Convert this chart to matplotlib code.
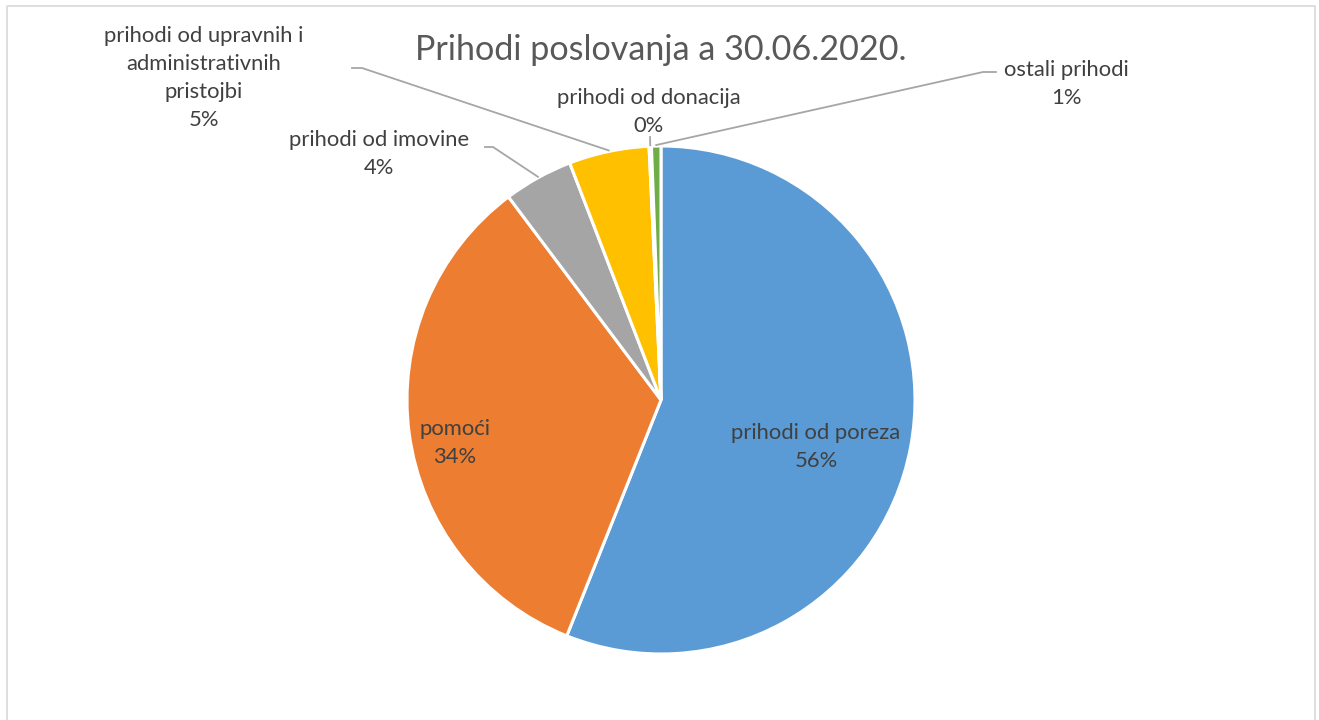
import numpy as np
import matplotlib.pyplot as plt

# udjeli prihoda (%)
categories = ["prihodi od poreza", "pomoći", "prihodi od imovine",
              "prihodi od upravnih i\nadministrativnih\npristojbi",
              "prihodi od donacija", "ostali prihodi"]
shares = [56.05, 33.7, 4.4, 5.1, 0.15, 0.6]
pct_labels = ["56%", "34%", "4%", "5%", "0%", "1%"]
colors = ["#5B9BD5", "#ED7D31", "#A5A5A5", "#FFC000", "#4472C4", "#70AD47"]

W, H = 1319, 720
fig = plt.figure(figsize=(W / 100, H / 100), dpi=100)
ax = fig.add_axes([0, 0, 1, 1])

plt.rcParams["font.family"] = ["Lato", "DejaVu Sans"]
txt_col = "#404040"

cx, cy, r = 661, H - 400, 254
wedges, _ = ax.pie(shares, colors=colors, startangle=90, counterclock=False,
                   center=(cx, cy), radius=r, frame=True,
                   wedgeprops=dict(edgecolor="white", linewidth=2.2))
ax.set_xlim(0, W)
ax.set_ylim(0, H)
ax.set_aspect("equal")
ax.axis("off")

# chart border
ax.plot([7, 7, 1315, 1315], [0, H - 6, H - 6, 0], color="#D9D9D9", lw=1.2)

ax.text(cx, H - 50, "Prihodi poslovanja a 30.06.2020.", ha="center", va="center",
        fontsize=24.6, color="#595959")


def edge_point(w):
    mid = np.deg2rad((w.theta1 + w.theta2) / 2)
    return cx + r * np.cos(mid), cy + r * np.sin(mid)


fs = 15.8
ls = 1.52

# inside labels
ax.text(816, H - 447, categories[0] + "\n" + pct_labels[0], ha="center", va="center",
        fontsize=fs, color=txt_col, linespacing=ls)
ax.text(455, H - 443, categories[1] + "\n" + pct_labels[1], ha="center", va="center",
        fontsize=fs, color=txt_col, linespacing=ls)

# outside labels: (text centre, leader start) in image pixels
outside = {
    2: ((379, 154), [(485, 147), (493, 147)]),
    3: ((204, 78), [(352, 68), (362, 68)]),
    4: ((649, 112), [(650, 137)]),
    5: ((1066, 84), [(996, 72), (983, 72)]),
}
for i, ((tx, ty), pts) in outside.items():
    ax.text(tx, H - ty, categories[i] + "\n" + pct_labels[i], ha="center", va="center",
            fontsize=fs, color=txt_col, linespacing=ls)
    ex, ey = edge_point(wedges[i])
    xs = [p[0] for p in pts] + [ex]
    ys = [H - p[1] for p in pts] + [ey + 1]
    ax.plot(xs, ys, color="#A6A6A6", lw=1.3)

fig.savefig("out.png", dpi=100, facecolor="white")
